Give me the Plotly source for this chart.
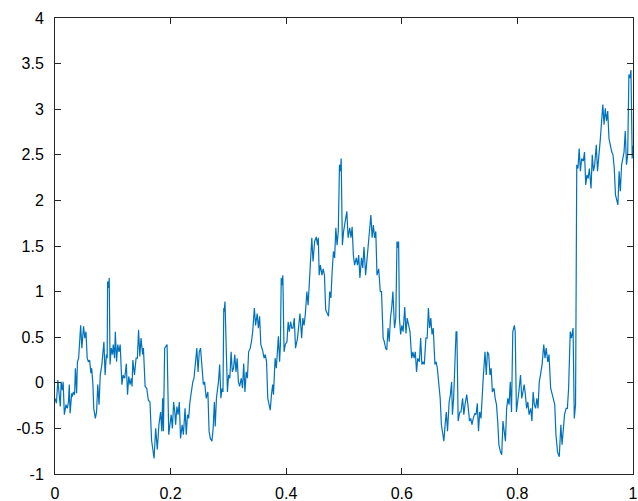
import plotly.graph_objects as go

x_vals = [
0.0000,0.0025,0.0049,0.0092,0.0106,0.0127,0.0141,0.0162,0.0190,0.0212,0.0233,0.0247,0.0261,0.0289,0.0303,0.0317,0.0339,0.0353,0.0374,0.0388,
0.0409,0.0444,0.0465,0.0494,0.0515,0.0536,0.0557,0.0578,0.0599,0.0621,0.0635,0.0656,0.0670,0.0698,0.0719,0.0740,0.0762,0.0783,0.0811,0.0846,
0.0867,0.0889,0.0903,0.0910,0.0924,0.0938,0.0952,0.0973,0.0994,0.1008,0.1030,0.1044,0.1065,0.1086,0.1107,0.1128,0.1157,0.1178,0.1206,0.1234,
0.1255,0.1276,0.1298,0.1319,0.1333,0.1347,0.1375,0.1403,0.1425,0.1446,0.1467,0.1488,0.1516,0.1530,0.1559,0.1587,0.1615,0.1643,0.1671,0.1693,
0.1714,0.1742,0.1770,0.1798,0.1827,0.1848,0.1862,0.1876,0.1897,0.1918,0.1939,0.1968,0.1989,0.2010,0.2031,0.2052,0.2073,0.2087,0.2109,0.2130,
0.2151,0.2172,0.2200,0.2221,0.2250,0.2271,0.2292,0.2313,0.2334,0.2355,0.2384,0.2405,0.2433,0.2454,0.2475,0.2496,0.2518,0.2539,0.2567,0.2588,
0.2616,0.2645,0.2666,0.2687,0.2715,0.2736,0.2757,0.2772,0.2793,0.2828,0.2849,0.2870,0.2891,0.2906,0.2920,0.2927,0.2941,0.2962,0.2983,0.3004,
0.3025,0.3047,0.3068,0.3089,0.3110,0.3131,0.3152,0.3173,0.3195,0.3223,0.3244,0.3265,0.3286,0.3307,0.3329,0.3350,0.3378,0.3399,0.3420,0.3449,
0.3470,0.3498,0.3519,0.3540,0.3561,0.3590,0.3618,0.3639,0.3660,0.3681,0.3702,0.3724,0.3745,0.3766,0.3780,0.3808,0.3829,0.3850,0.3865,0.3886,
0.3900,0.3914,0.3928,0.3942,0.3963,0.3984,0.4013,0.4034,0.4055,0.4076,0.4097,0.4118,0.4140,0.4161,0.4196,0.4238,0.4267,0.4288,0.4309,0.4330,
0.4358,0.4379,0.4408,0.4443,0.4464,0.4492,0.4520,0.4542,0.4556,0.4570,0.4591,0.4619,0.4640,0.4662,0.4683,0.4711,0.4732,0.4753,0.4774,0.4795,
0.4817,0.4838,0.4859,0.4880,0.4901,0.4922,0.4937,0.4951,0.4972,0.4993,0.5014,0.5049,0.5071,0.5099,0.5120,0.5141,0.5162,0.5183,0.5212,0.5233,
0.5254,0.5275,0.5303,0.5324,0.5346,0.5374,0.5395,0.5423,0.5444,0.5465,0.5487,0.5508,0.5529,0.5550,0.5571,0.5600,0.5628,0.5649,0.5677,0.5698,
0.5719,0.5740,0.5762,0.5783,0.5804,0.5825,0.5846,0.5874,0.5896,0.5917,0.5938,0.5945,0.5959,0.5980,0.6001,0.6023,0.6051,0.6072,0.6093,0.6121,
0.6142,0.6171,0.6192,0.6213,0.6234,0.6255,0.6276,0.6305,0.6326,0.6347,0.6368,0.6389,0.6417,0.6439,0.6460,0.6481,0.6502,0.6523,0.6544,0.6573,
0.6594,0.6615,0.6643,0.6664,0.6685,0.6707,0.6728,0.6749,0.6770,0.6791,0.6819,0.6841,0.6862,0.6876,0.6897,0.6918,0.6939,0.6953,0.6975,0.7003,
0.7024,0.7052,0.7073,0.7094,0.7123,0.7144,0.7172,0.7193,0.7214,0.7236,0.7264,0.7285,0.7306,0.7327,0.7348,0.7370,0.7391,0.7412,0.7440,0.7461,
0.7482,0.7504,0.7525,0.7546,0.7567,0.7595,0.7616,0.7638,0.7659,0.7680,0.7708,0.7729,0.7750,0.7772,0.7793,0.7814,0.7835,0.7856,0.7877,0.7898,
0.7920,0.7948,0.7962,0.7983,0.8004,0.8025,0.8054,0.8075,0.8096,0.8117,0.8138,0.8159,0.8181,0.8202,0.8230,0.8251,0.8272,0.8293,0.8315,0.8336,
0.8357,0.8378,0.8399,0.8427,0.8456,0.8477,0.8498,0.8526,0.8547,0.8575,0.8604,0.8625,0.8646,0.8667,0.8695,0.8724,0.8752,0.8773,0.8794,0.8815,
0.8843,0.8865,0.8886,0.8914,0.8935,0.8963,0.8984,0.9006,0.9027,0.9048,0.9069,0.9090,0.9111,0.9140,0.9161,0.9182,0.9203,0.9224,0.9245,0.9274,
0.9295,0.9316,0.9337,0.9365,0.9386,0.9408,0.9436,0.9457,0.9478,0.9499,0.9520,0.9542,0.9563,0.9584,0.9605,0.9633,0.9654,0.9676,0.9697,0.9718,
0.9739,0.9760,0.9781,0.9803,0.9824,0.9845,0.9866,0.9887,0.9908,0.9929,0.9944,0.9965,0.9986,1.0000,
]

y_vals = [
-0.17,-0.225,0.03,-0.26,0.01,-0.08,0.01,-0.35,-0.24,-0.28,-0.21,-0.02,-0.335,-0.115,-0.15,-0.10,-0.13,0.16,-0.115,0.23,
0.27,0.63,0.38,0.62,0.49,0.56,0.27,0.23,0.25,0.105,0.16,-0.02,-0.28,-0.39,-0.32,-0.02,-0.24,0.085,0.20,0.45,
0.085,0.31,0.27,1.11,1.04,1.15,0.20,0.38,0.31,0.42,0.27,0.56,0.23,0.42,0.34,0.42,-0.02,0.085,0.05,0.21,
-0.13,0.07,-0.02,0.05,-0.04,0.25,0.085,0.27,0.27,0.58,0.29,0.49,0.31,0.38,-0.04,-0.06,-0.19,-0.21,-0.63,-0.72,
-0.83,-0.50,-0.73,-0.46,-0.32,-0.53,-0.17,-0.53,0.38,0.40,0.42,-0.57,-0.46,-0.35,-0.50,-0.21,-0.32,-0.46,-0.26,-0.35,
-0.21,-0.61,-0.46,-0.57,-0.28,-0.57,-0.35,-0.39,-0.21,-0.10,0.01,0.05,0.23,0.38,0.12,0.34,0.38,0.20,-0.02,0.01,
-0.17,-0.10,-0.53,-0.61,-0.64,-0.50,-0.21,-0.48,-0.17,0.01,0.20,-0.17,-0.06,-0.10,0.82,0.78,0.89,0.20,-0.10,0.085,
0.05,0.34,0.12,0.16,0.31,0.12,0.27,0.01,-0.04,0.05,-0.06,0.21,-0.10,0.12,0.05,0.34,0.38,0.45,0.56,0.82,
0.63,0.76,0.60,0.73,0.42,0.36,0.27,0.31,0.23,-0.17,-0.24,-0.30,-0.13,-0.02,-0.13,0.27,0.16,0.31,0.51,0.23,
0.42,1.15,1.07,1.18,0.34,0.42,0.45,0.67,0.56,0.67,0.60,0.60,0.71,0.38,0.49,0.76,0.49,0.71,0.63,0.745,
1.00,0.85,1.18,1.59,1.33,1.55,1.60,1.51,1.59,1.18,1.29,1.18,1.25,1.18,0.80,0.76,0.73,1.00,0.93,1.22,
1.44,1.37,1.70,1.51,1.66,2.39,2.32,2.46,1.51,1.66,1.73,1.88,1.59,1.70,1.59,1.71,1.40,1.29,1.37,1.29,
1.40,1.15,1.37,1.26,1.49,1.18,1.33,1.51,1.66,1.84,1.59,1.73,1.59,1.66,1.18,1.25,1.00,1.00,0.49,0.45,
0.38,0.36,0.60,0.45,0.71,0.82,1.00,0.60,0.71,1.55,1.48,1.55,0.71,0.53,0.63,0.56,0.83,0.54,0.71,0.63,
0.56,0.27,0.34,0.27,0.34,0.12,0.27,0.23,0.49,0.20,0.23,0.20,0.49,0.49,0.82,0.60,0.71,0.53,0.60,0.20,
0.23,0.16,0.01,-0.17,-0.46,-0.57,-0.64,-0.46,-0.32,-0.53,-0.21,-0.13,0.01,-0.35,-0.17,0.20,0.56,0.56,-0.42,-0.32,
-0.32,-0.17,-0.35,-0.24,-0.13,-0.24,-0.42,-0.39,-0.46,-0.39,-0.335,-0.35,-0.225,-0.53,-0.32,-0.39,-0.08,0.085,0.34,0.085,
0.34,0.31,0.085,0.16,-0.10,-0.06,-0.17,-0.24,-0.42,-0.68,-0.76,-0.79,-0.42,-0.53,-0.64,-0.28,-0.17,-0.24,0.01,-0.32,
0.56,0.63,0.56,-0.32,-0.17,-0.10,0.085,-0.17,-0.10,-0.02,-0.13,-0.28,-0.21,-0.35,-0.28,-0.42,-0.10,-0.24,-0.28,-0.17,
-0.28,0.01,0.085,0.20,0.42,0.27,0.38,0.23,0.31,-0.06,-0.13,-0.21,-0.24,-0.57,-0.76,-0.81,-0.46,-0.68,-0.46,-0.35,
-0.28,-0.28,-0.06,0.56,0.49,0.60,-0.39,-0.24,2.39,2.35,2.57,2.32,2.46,2.43,2.53,2.17,2.28,2.24,2.35,2.13,
2.50,2.32,2.39,2.61,2.32,2.46,2.68,2.87,3.05,2.83,3.01,2.87,2.98,2.68,2.61,2.53,2.50,2.35,2.06,1.99,
1.95,2.32,2.10,2.39,2.46,2.53,2.76,2.39,2.50,3.38,3.34,3.43,2.46,2.60,
]

x_ticks = [0, 0.2, 0.4, 0.6, 0.8, 1]
x_tick_text = ["0", "0.2", "0.4", "0.6", "0.8", "1"]
y_ticks = [-1, -0.5, 0, 0.5, 1, 1.5, 2, 2.5, 3, 3.5, 4]
y_tick_text = ["-1", "-0.5", "0", "0.5", "1", "1.5", "2", "2.5", "3", "3.5", "4"]

fig = go.Figure()
fig.add_trace(go.Scatter(x=x_vals, y=y_vals, mode="lines",
                         line=dict(color="#0072BD", width=1.2), showlegend=False))

axis_common = dict(showgrid=False, zeroline=False, showline=True, linecolor="#262626",
                   linewidth=1, mirror="ticks", ticks="inside", ticklen=6,
                   tickcolor="#262626", tickwidth=1, automargin=False,
                   ticklabeloverflow="allow",
                   tickfont=dict(family="Liberation Sans, Arial, sans-serif", size=16, color="#000000"))

fig.update_xaxes(range=[0, 1], tickvals=x_ticks, ticktext=x_tick_text,
                 ticklabelstandoff=5, **axis_common)
fig.update_yaxes(range=[-1, 4], tickvals=y_ticks, ticktext=y_tick_text,
                 ticklabelstandoff=7, **axis_common)

fig.update_layout(width=638, height=501, margin=dict(l=55, r=5, t=18, b=27),
                  plot_bgcolor="white", paper_bgcolor="white")

# remove the default page margin so the 638x501 figure fills the window exactly
fig.write_html("out.html", config={"displayModeBar": False},
               post_script="document.body.style.margin='0';document.body.style.overflow='hidden';")
